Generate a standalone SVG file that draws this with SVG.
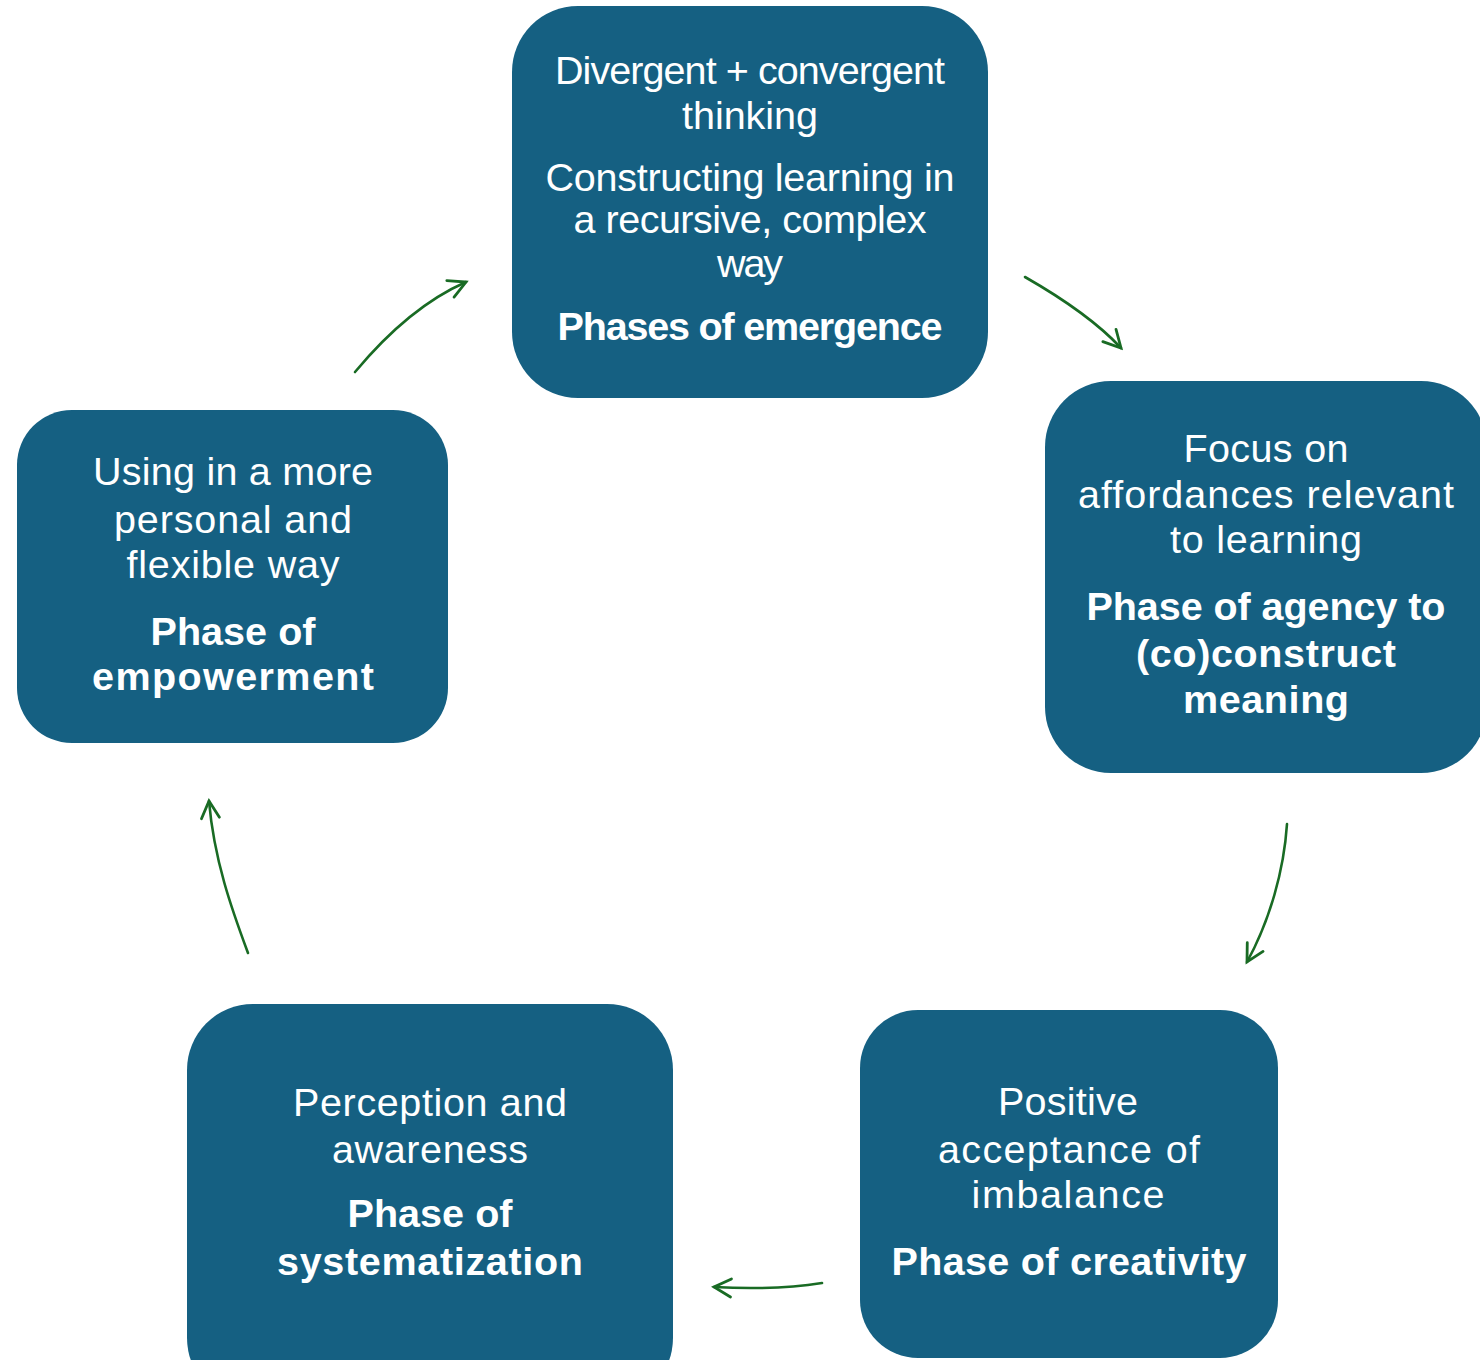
<svg xmlns="http://www.w3.org/2000/svg" width="1480" height="1360" viewBox="0 0 1480 1360">
  <defs>
    <style>
      .box { fill: #156082; }
      .txt { font-family: "Liberation Sans", Arial, sans-serif; font-size: 39.5px; fill: #ffffff; text-anchor: middle; }
      .b { font-weight: bold; }
      .link { fill: none; stroke: #196B24; stroke-width: 2.6; stroke-linecap: round; }
    </style>
    <marker id="arrow" markerUnits="userSpaceOnUse" markerWidth="24" markerHeight="24" viewBox="-20 -12 24 24" refX="0" refY="0" orient="auto">
      <path d="M-17,-9 L0,0 L-17,9" fill="none" stroke="#196B24" stroke-width="2.8" stroke-linecap="round" stroke-linejoin="miter"/>
    </marker>
  </defs>

  <rect width="1480" height="1360" fill="#ffffff"/>

  <!-- cycle connectors -->
  <g id="connectors">
    <path class="link" d="M1025,277 C1060,297 1095,320 1121,348" marker-end="url(#arrow)"/>
    <path class="link" d="M1287,824 C1284,870 1270,920 1247,962" marker-end="url(#arrow)"/>
    <path class="link" d="M822,1283 C790,1288 750,1289 714,1287" marker-end="url(#arrow)"/>
    <path class="link" d="M248,953 C232,910 214,860 209,801" marker-end="url(#arrow)"/>
    <path class="link" d="M355,372 C390,330 425,300 466,282" marker-end="url(#arrow)"/>
  </g>

  <!-- emergence -->
  <g id="node-emergence">
    <rect class="box" x="512" y="6" width="476" height="392" rx="66" ry="66"/>
    <text class="txt" x="750" y="84" textLength="390" lengthAdjust="spacing">Divergent + convergent</text>
    <text class="txt" x="750" y="129" textLength="136" lengthAdjust="spacing">thinking</text>
    <text class="txt" x="750" y="191" textLength="409" lengthAdjust="spacing">Constructing learning in</text>
    <text class="txt" x="750" y="233" textLength="353" lengthAdjust="spacing">a recursive, complex</text>
    <text class="txt" x="750" y="277" textLength="66" lengthAdjust="spacing">way</text>
    <text class="txt b" x="750" y="340" textLength="385" lengthAdjust="spacing">Phases of emergence</text>
  </g>

  <!-- agency -->
  <g id="node-agency">
    <rect class="box" x="1045" y="381" width="442" height="392" rx="66" ry="66"/>
    <text class="txt" x="1266" y="462" textLength="165" lengthAdjust="spacing">Focus on</text>
    <text class="txt" x="1266" y="508" textLength="376" lengthAdjust="spacing">affordances relevant</text>
    <text class="txt" x="1266" y="553" textLength="192" lengthAdjust="spacing">to learning</text>
    <text class="txt b" x="1266" y="620" textLength="359" lengthAdjust="spacing">Phase of agency to</text>
    <text class="txt b" x="1266" y="667" textLength="260" lengthAdjust="spacing">(co)construct</text>
    <text class="txt b" x="1266" y="713" textLength="166" lengthAdjust="spacing">meaning</text>
  </g>

  <!-- creativity -->
  <g id="node-creativity">
    <rect class="box" x="860" y="1010" width="418" height="348" rx="58" ry="58"/>
    <text class="txt" x="1068" y="1115" textLength="140" lengthAdjust="spacing">Positive</text>
    <text class="txt" x="1069" y="1163" textLength="262" lengthAdjust="spacing">acceptance of</text>
    <text class="txt" x="1068" y="1208" textLength="193" lengthAdjust="spacing">imbalance</text>
    <text class="txt b" x="1069" y="1275" textLength="355" lengthAdjust="spacing">Phase of creativity</text>
  </g>

  <!-- systematization -->
  <g id="node-systematization">
    <rect class="box" x="187" y="1004" width="486" height="400" rx="66" ry="66"/>
    <text class="txt" x="430" y="1116" textLength="274" lengthAdjust="spacing">Perception and</text>
    <text class="txt" x="430" y="1163" textLength="196" lengthAdjust="spacing">awareness</text>
    <text class="txt b" x="430" y="1227" textLength="165" lengthAdjust="spacing">Phase of</text>
    <text class="txt b" x="430" y="1275" textLength="306" lengthAdjust="spacing">systematization</text>
  </g>

  <!-- empowerment -->
  <g id="node-empowerment">
    <rect class="box" x="17" y="410" width="431" height="333" rx="55" ry="55"/>
    <text class="txt" x="233" y="485" textLength="280" lengthAdjust="spacing">Using in a more</text>
    <text class="txt" x="233" y="533" textLength="238" lengthAdjust="spacing">personal and</text>
    <text class="txt" x="233" y="578" textLength="213" lengthAdjust="spacing">flexible way</text>
    <text class="txt b" x="233" y="645" textLength="165" lengthAdjust="spacing">Phase of</text>
    <text class="txt b" x="233" y="690" textLength="282" lengthAdjust="spacing">empowerment</text>
  </g>
</svg>
